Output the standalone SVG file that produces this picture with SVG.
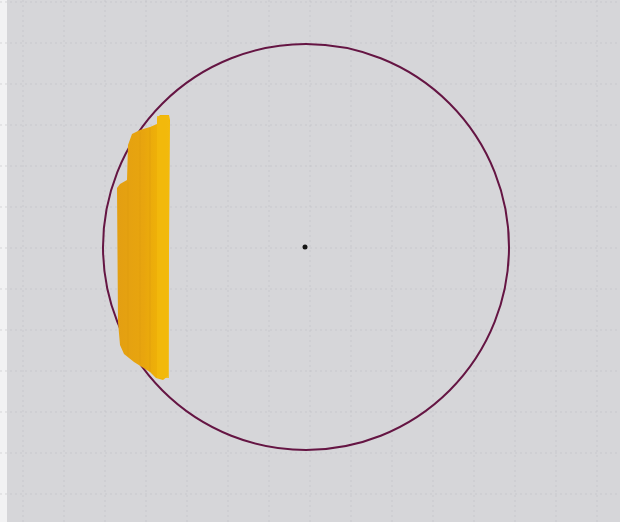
<svg xmlns="http://www.w3.org/2000/svg" width="620" height="522" viewBox="0 0 620 522">
<defs>
<style>
.grid line{stroke:#bdbdc2;stroke-width:1;stroke-dasharray:2 3;opacity:0.55}
</style>
<linearGradient id="strip" x1="0" y1="0" x2="1" y2="0">
<stop offset="0" stop-color="#e39f12"/>
<stop offset="0.5" stop-color="#e8a50e"/>
<stop offset="0.75" stop-color="#eeb008"/>
<stop offset="1" stop-color="#f2b80a"/>
</linearGradient>
</defs>
<rect width="620" height="522" fill="#d6d6d9"/>
<rect x="0" y="0" width="7" height="522" fill="#f2f2f3"/>
<g class="grid">
<line x1="23" y1="0" x2="23" y2="522"/>
<line x1="64" y1="0" x2="64" y2="522"/>
<line x1="105" y1="0" x2="105" y2="522"/>
<line x1="146" y1="0" x2="146" y2="522"/>
<line x1="187" y1="0" x2="187" y2="522"/>
<line x1="228" y1="0" x2="228" y2="522"/>
<line x1="269" y1="0" x2="269" y2="522"/>
<line x1="310" y1="0" x2="310" y2="522"/>
<line x1="351" y1="0" x2="351" y2="522"/>
<line x1="392" y1="0" x2="392" y2="522"/>
<line x1="433" y1="0" x2="433" y2="522"/>
<line x1="474" y1="0" x2="474" y2="522"/>
<line x1="515" y1="0" x2="515" y2="522"/>
<line x1="556" y1="0" x2="556" y2="522"/>
<line x1="597" y1="0" x2="597" y2="522"/>
<line x1="0" y1="2" x2="620" y2="2"/>
<line x1="0" y1="43" x2="620" y2="43"/>
<line x1="0" y1="84" x2="620" y2="84"/>
<line x1="0" y1="125" x2="620" y2="125"/>
<line x1="0" y1="166" x2="620" y2="166"/>
<line x1="0" y1="207" x2="620" y2="207"/>
<line x1="0" y1="248" x2="620" y2="248"/>
<line x1="0" y1="289" x2="620" y2="289"/>
<line x1="0" y1="330" x2="620" y2="330"/>
<line x1="0" y1="371" x2="620" y2="371"/>
<line x1="0" y1="412" x2="620" y2="412"/>
<line x1="0" y1="453" x2="620" y2="453"/>
<line x1="0" y1="494" x2="620" y2="494"/>
</g>
<circle id="circle" cx="306" cy="247" r="203" fill="none" stroke="#651543" stroke-width="2"/>
<circle id="centre" cx="305" cy="247" r="2.5" fill="#151515"/>
<g id="strip-shape">
<polygon fill="url(#strip)" points="157,118 160,115 169,115 170,120 168,376 163,380 156,378 150,372 134,362 124,354 120,345 118,322 117,188 120,184 127,180 128,145 132,134 140,130 150,127 157,124"/>
<rect x="157" y="116" width="12" height="262" fill="#f2ba0c" opacity="0.8"/>
<line x1="150" y1="128" x2="150" y2="372" stroke="#d9960f" stroke-width="1" opacity="0.5"/>
<line x1="140" y1="132" x2="140" y2="364" stroke="#d9960f" stroke-width="1" opacity="0.4"/>
<line x1="128" y1="182" x2="128" y2="356" stroke="#d9960f" stroke-width="1" opacity="0.4"/>
</g>
</svg>
